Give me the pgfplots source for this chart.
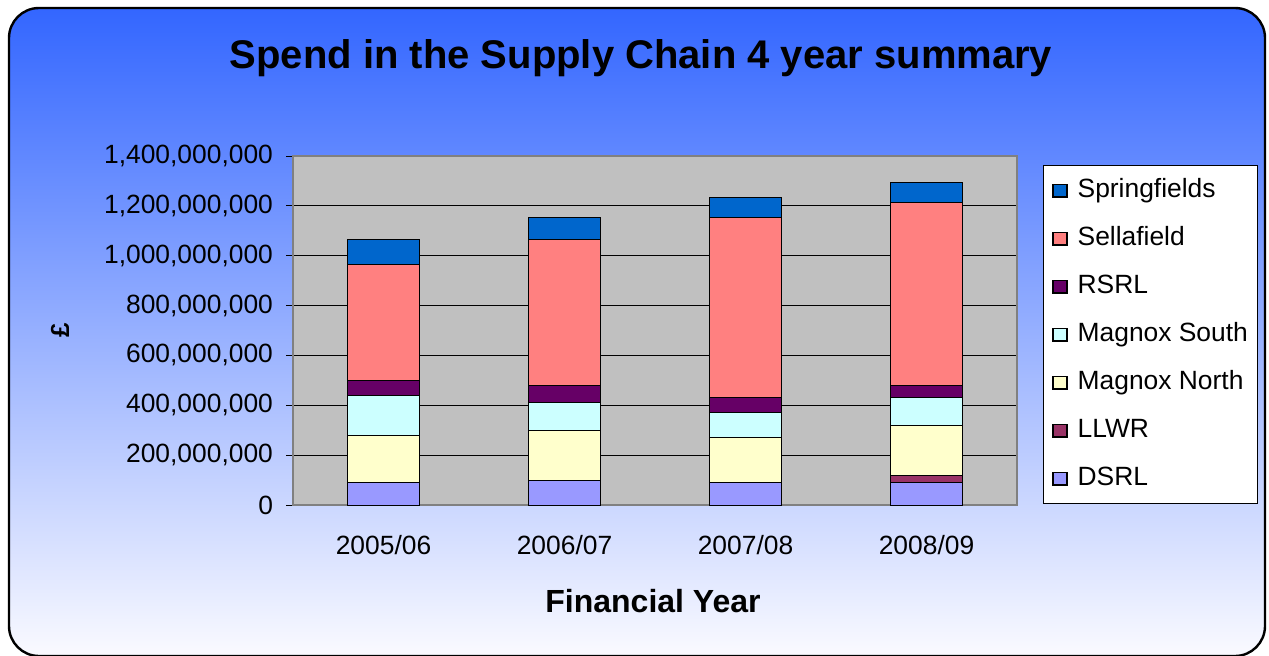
\documentclass[border=0pt]{standalone}
\usepackage{fontspec}
\setmainfont{Liberation Sans}
\usepackage{pgfplots}
\pgfplotsset{compat=1.18}
\definecolor{bgtop}{RGB}{51,102,255}
\definecolor{bgmid}{RGB}{182,190,255}
\definecolor{bgbot}{RGB}{250,250,255}
\definecolor{plotbg}{RGB}{192,192,192}
\definecolor{cDSRL}{RGB}{153,153,255}
\definecolor{cLLWR}{RGB}{153,51,102}
\definecolor{cMagN}{RGB}{255,255,204}
\definecolor{cMagS}{RGB}{204,255,255}
\definecolor{cRSRL}{RGB}{102,0,102}
\definecolor{cSella}{RGB}{255,128,128}
\definecolor{cSpring}{RGB}{0,102,204}

\begin{document}
\begin{tikzpicture}
\useasboundingbox (0,0) rectangle (634.5pt,327.5pt);
% background panel
\shade[top color=bgtop, middle color=bgmid, bottom color=bgbot, rounded corners=15pt]
  (4.5pt,-0.5pt) rectangle (632.5pt,323.5pt);
\draw[line width=1.2pt, rounded corners=15pt] (4.5pt,-0.5pt) rectangle (632.5pt,323.5pt);

\node[font=\fontsize{20}{23}\selectfont\bfseries] at (320.5pt,298.5pt) {Spend in the Supply Chain 4 year summary};
\node[font=\fontsize{16}{19}\selectfont\bfseries] at (326.5pt,27pt) {Financial Year};
\node[font=\fontsize{13}{15}\selectfont\bfseries, rotate=90] at (30pt,162.5pt) {£};

\begin{axis}[
  at={(146.5pt,75pt)}, anchor=south west,
  scale only axis,
  width=362pt, height=174.5pt,
  ybar stacked,
  bar width=0.4,
  xmin=-0.5, xmax=3.5,
  ymin=0, ymax=1400,
  xtick={0,1,2,3},
  xticklabels={2005/06,2006/07,2007/08,2008/09},
  major x tick style={draw=none},
  extra x ticks={-0.5,0.5,1.5,2.5,3.5},
  extra x tick labels={},
  extra x tick style={major tick length=3.5pt, tick align=outside, tick style={black, thin}},
  ytick={0,200,400,600,800,1000,1200,1400},
  yticklabels={0,{200,000,000},{400,000,000},{600,000,000},{800,000,000},{1,000,000,000},{1,200,000,000},{1,400,000,000}},
  tick align=outside,
  major tick length=3.5pt,
  ytick pos=left,
  xtick pos=bottom,
  tick style={black, thin},
  ticklabel style={font=\fontsize{13.2}{15}\selectfont},
  xticklabel style={yshift=-8pt},
  yticklabel style={xshift=-3pt},
  ymajorgrids,
  grid style={black, line width=0.5pt},
  axis background/.style={fill=plotbg},
  axis line style={draw=gray, line width=0.6pt},
  every bar/.append style={draw=black, line width=1.3pt},
  reverse legend,
  legend style={
    at={(rel axis cs:1.036,0.974)}, anchor=north west,
    draw=black, line width=0.5pt, fill=white,
    font=\fontsize{13.2}{15}\selectfont,
    nodes={inner ysep=0pt, inner xsep=5pt, text height=10pt, text depth=3pt},
    row sep=11pt, inner xsep=0pt, inner ysep=6pt,
    legend cell align=left,
  },
  legend image code/.code={\path (0pt,0pt);
    \draw[#1, line width=0.6pt] (4.5pt,-3.2pt) rectangle (11.5pt,3.2pt);},
]
\addplot[fill=cDSRL] coordinates {(0,90) (1,100) (2,90) (3,90)};
\addplot[fill=cLLWR] coordinates {(0,0) (1,0) (2,0) (3,30)};
\addplot[fill=cMagN] coordinates {(0,190) (1,200) (2,180) (3,200)};
\addplot[fill=cMagS] coordinates {(0,160) (1,110) (2,100) (3,110)};
\addplot[fill=cRSRL] coordinates {(0,60) (1,70) (2,60) (3,50)};
\addplot[fill=cSella] coordinates {(0,465) (1,585) (2,725) (3,735)};
\addplot[fill=cSpring] coordinates {(0,100) (1,90) (2,80) (3,80)};
\legend{DSRL, LLWR, Magnox North, Magnox South, RSRL, Sellafield, Springfields}
\end{axis}
\end{tikzpicture}
\end{document}
